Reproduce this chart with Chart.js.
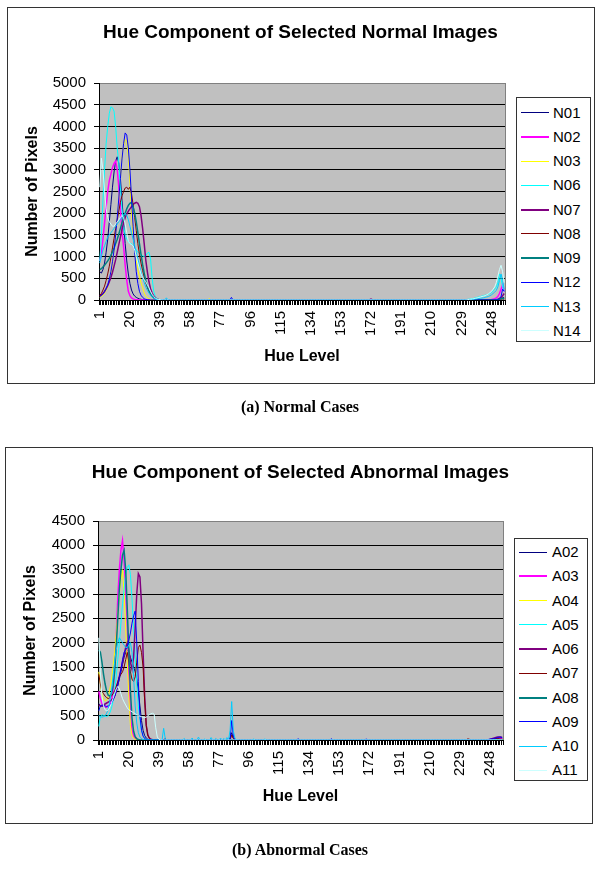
<!DOCTYPE html>
<html><head><meta charset="utf-8">
<script src="https://cdn.jsdelivr.net/npm/chart.js@4.4.1/dist/chart.umd.min.js"></script>
<style>
html,body{margin:0;padding:0;background:#fff;width:600px;height:874px;overflow:hidden;position:relative;font-family:Arial,'Liberation Sans',sans-serif;}
.frame{position:absolute;border:1px solid #333;box-sizing:border-box;pointer-events:none;}
canvas{position:absolute;left:0;}
.title{position:absolute;left:0;width:601px;text-align:center;font-weight:bold;font-size:19px;line-height:22px;color:#000;}
.caption{position:absolute;left:0;width:600px;text-align:center;font-family:'Liberation Serif','Times New Roman',serif;font-weight:bold;font-size:16px;line-height:20px;color:#000;}
.legend{position:absolute;border:1px solid #333;background:#fff;box-sizing:border-box;}
.li{position:absolute;left:0;width:100%;height:0;}
.li .ln{position:absolute;width:28px;}
.li .tx{position:absolute;font-size:15px;line-height:18px;top:-9px;color:#000;white-space:nowrap;}
</style></head><body>

<div class="frame" style="left:7px;top:7px;width:588px;height:377px;"></div>
<div class="frame" style="left:5px;top:447px;width:588px;height:377px;"></div>
<canvas id="c1" width="600" height="440" style="top:0px;"></canvas>
<canvas id="c2" width="600" height="434" style="top:440px;"></canvas>
<div class="title" style="top:21px;">Hue Component of Selected Normal Images</div>
<div class="title" style="top:461px;">Hue Component of Selected Abnormal Images</div>
<div class="legend" id="lg1" style="left:516px;top:97px;width:75px;height:245px;"></div>
<div class="legend" id="lg2" style="left:514px;top:538px;width:74px;height:243px;"></div>
<div class="caption" style="top:397px;">(a) Normal Cases</div>
<div class="caption" style="top:840px;">(b) Abnormal Cases</div>

<script>
// ---------------- DATA ----------------
const hueLevels = [
1,2,3,4,5,6,7,8,9,10,11,12,13,14,15,16,
17,18,19,20,21,22,23,24,25,26,27,28,29,30,31,32,
33,34,35,36,37,38,39,40,41,42,43,44,45,46,47,48,
49,50,51,52,53,54,55,56,57,58,59,60,61,62,63,64,
65,66,67,68,69,70,71,72,73,74,75,76,77,78,79,80,
81,82,83,84,85,86,87,88,89,90,91,92,93,94,95,96,
97,98,99,100,101,102,103,104,105,106,107,108,109,110,111,112,
113,114,115,116,117,118,119,120,121,122,123,124,125,126,127,128,
129,130,131,132,133,134,135,136,137,138,139,140,141,142,143,144,
145,146,147,148,149,150,151,152,153,154,155,156,157,158,159,160,
161,162,163,164,165,166,167,168,169,170,171,172,173,174,175,176,
177,178,179,180,181,182,183,184,185,186,187,188,189,190,191,192,
193,194,195,196,197,198,199,200,201,202,203,204,205,206,207,208,
209,210,211,212,213,214,215,216,217,218,219,220,221,222,223,224,
225,226,227,228,229,230,231,232,233,234,235,236,237,238,239,240,
241,242,243,244,245,246,247,248,249,250,251,252,253,254,255,256];

const xTickLabels = [1,20,39,58,77,96,115,134,153,172,191,210,229,248];
const normalYTicks = [0,500,1000,1500,2000,2500,3000,3500,4000,4500,5000];
const abnormalYTicks = [0,500,1000,1500,2000,2500,3000,3500,4000,4500];

const normalNames = ['N01','N02','N03','N06','N07','N08','N09','N12','N13','N14'];
const abnormalNames = ['A02','A03','A04','A05','A06','A07','A08','A09','A10','A11'];

const N01 = [
650,620,700,850,1100,1400,1800,2200,2600,2950,3200,3300,3150,2800,2300,1800,
1300,900,600,380,230,140,90,60,40,25,15,10,8,5,3,2,
1,0,0,0,0,0,0,0,0,0,0,0,0,0,0,0,
0,0,0,0,0,0,0,0,0,0,0,0,0,0,0,0,
0,0,0,0,0,0,0,0,0,0,0,0,0,0,0,0,
0,0,0,0,0,0,0,0,0,0,0,0,0,0,0,0,
0,0,0,0,0,0,0,0,0,0,0,0,0,0,0,0,
0,0,0,0,0,0,0,0,0,0,0,0,0,0,0,0,
0,0,0,0,0,0,0,0,0,0,0,0,0,0,0,0,
0,0,0,0,0,0,0,0,0,0,0,0,0,0,0,0,
0,0,0,0,0,0,0,0,0,0,0,0,0,0,0,0,
0,0,0,0,0,0,0,0,0,0,0,0,0,0,0,0,
0,0,0,0,0,0,0,0,0,0,0,0,0,0,0,0,
0,0,0,0,0,0,0,0,0,0,0,0,0,0,0,0,
0,0,0,0,0,0,0,0,0,0,0,0,0,0,0,0,
0,0,0,0,0,0,0,0,5,10,15,20,30,40,60,50];
const N02 = [
900,1080,1400,1770,2150,2500,2750,2900,3050,3150,3200,3000,2600,2100,1600,1230,
800,450,200,100,50,25,12,6,3,2,1,0,0,0,0,0,
0,0,0,0,0,0,0,0,0,0,0,0,0,0,0,0,
0,0,0,0,0,0,0,0,0,0,0,0,0,0,0,0,
0,0,0,0,0,0,0,0,0,0,0,0,0,0,0,0,
0,0,0,0,0,0,0,0,0,0,0,0,0,0,0,0,
0,0,0,0,0,0,0,0,0,0,0,0,0,0,0,0,
0,0,0,0,0,0,0,0,0,0,0,0,0,0,0,0,
0,0,0,0,0,0,0,0,0,0,0,0,0,0,0,0,
0,0,0,0,0,0,0,0,0,0,0,0,0,0,0,0,
0,0,0,0,0,0,0,0,0,0,0,0,0,0,0,0,
0,0,0,0,0,0,0,0,0,0,0,0,0,0,0,0,
0,0,0,0,0,0,0,0,0,0,0,0,0,0,0,0,
0,0,0,0,0,0,0,0,0,0,0,0,0,0,0,0,
0,0,0,0,0,0,0,0,0,0,0,0,0,0,0,0,
0,0,0,0,0,0,5,10,20,30,50,80,150,250,350,200];
const N03 = [
60,80,110,160,220,300,420,600,850,1150,1500,1840,2300,2800,3300,3550,
3700,3650,3300,2700,2000,1500,1150,900,700,540,400,280,160,90,50,25,
12,6,3,0,0,0,0,0,0,0,0,0,0,0,0,0,
0,0,0,0,0,0,0,0,0,0,0,0,0,0,0,0,
0,0,0,0,0,30,0,0,0,0,0,0,0,0,0,0,
0,0,0,0,0,0,0,0,0,0,0,0,0,0,0,0,
0,0,0,0,0,0,0,0,0,0,0,0,0,0,0,0,
0,0,0,0,0,0,0,0,0,0,0,0,0,0,0,0,
0,0,0,0,0,0,0,0,0,0,0,0,0,0,0,0,
0,0,0,0,0,0,0,0,0,0,0,0,0,0,0,0,
0,0,0,0,0,0,0,0,0,0,0,0,0,0,0,0,
0,0,0,0,0,0,0,0,0,0,0,0,0,0,0,0,
0,0,0,0,0,0,0,0,0,0,0,0,0,0,0,0,
0,0,0,0,0,0,0,0,0,0,0,0,0,0,0,0,
0,0,0,0,0,0,0,0,0,0,0,0,0,0,0,0,
0,0,0,0,0,0,0,0,0,5,10,15,20,30,40,30];
const N06 = [
900,1500,2300,3000,3600,4000,4300,4450,4430,4350,4000,3500,3150,2600,2100,1700,
1500,1400,1350,1300,1300,1250,1200,1150,1100,1080,1050,1020,1000,1020,1080,1100,
950,500,200,80,30,15,8,5,3,2,1,0,0,0,0,0,
0,0,0,0,0,0,0,0,0,0,0,0,0,0,0,0,
0,0,0,0,0,0,0,0,0,0,0,0,0,0,0,0,
0,0,0,0,0,0,0,0,0,0,0,0,0,0,0,0,
0,0,0,0,0,0,0,0,0,0,0,0,0,0,0,0,
0,0,0,0,0,0,0,0,0,0,0,0,0,0,0,0,
0,0,0,0,0,0,0,0,0,0,0,0,0,0,0,0,
0,0,0,0,0,0,0,0,0,0,0,0,0,0,0,0,
0,0,0,0,0,0,0,0,0,0,0,0,0,0,0,0,
0,0,0,0,0,0,0,0,0,0,0,0,0,0,0,0,
0,0,0,0,0,0,0,0,0,0,0,0,0,0,0,0,
0,0,0,0,0,0,0,0,0,0,0,0,0,0,0,0,
0,0,0,0,5,8,10,12,15,20,25,30,40,50,60,70,
80,90,100,110,120,130,150,170,200,250,300,400,600,500,300,200];
const N07 = [
100,120,150,200,260,330,420,520,640,780,930,1100,1280,1450,1620,1780,
1900,1980,2050,2100,2150,2200,2230,2250,2230,2150,1950,1650,1300,920,650,420,
260,160,90,50,25,12,6,3,0,0,0,0,0,0,0,0,
0,0,0,0,0,0,0,0,0,0,0,0,0,0,0,0,
0,0,0,0,0,0,0,0,0,0,0,0,0,0,0,0,
0,0,0,0,0,0,0,0,0,0,0,0,0,0,0,0,
0,0,0,0,0,0,0,0,0,0,0,0,0,0,0,0,
0,0,0,0,0,0,0,0,0,0,0,0,0,0,0,0,
0,0,0,0,0,0,0,0,0,0,0,0,0,0,0,0,
0,0,0,0,0,0,0,0,0,0,0,0,0,0,0,0,
0,0,0,0,0,0,0,0,0,0,0,20,0,0,0,0,
0,0,0,0,0,0,0,0,0,0,0,0,0,0,0,0,
0,0,0,0,0,0,0,0,0,0,0,0,0,0,0,0,
0,0,0,0,0,0,0,0,0,0,0,0,0,0,0,0,
0,0,0,0,0,0,0,0,0,0,0,0,0,0,0,0,
0,0,0,0,0,0,0,0,0,0,0,0,30,60,100,150];
const N08 = [
100,150,230,320,450,600,780,980,1200,1420,1650,1850,2050,2250,2400,2500,
2580,2600,2550,2600,2450,2200,1900,1600,1300,1050,850,680,530,400,290,200,
130,80,45,25,12,6,3,0,0,0,0,0,0,0,0,0,
0,0,0,0,0,0,0,0,0,0,0,0,0,0,0,0,
0,0,0,0,0,0,0,0,0,0,0,0,0,0,0,0,
0,0,0,0,0,0,0,0,0,0,0,0,0,0,0,0,
0,0,0,0,0,0,0,0,0,0,0,0,0,0,0,0,
0,0,0,0,0,0,0,0,0,0,0,0,0,0,0,0,
0,0,0,0,0,0,0,0,0,0,0,0,0,0,0,0,
0,0,0,0,0,0,0,0,0,0,0,0,0,0,0,0,
0,0,0,0,0,0,0,0,0,0,0,0,0,0,0,0,
0,0,0,0,0,0,0,0,0,0,0,0,0,0,0,0,
0,0,0,0,0,0,0,0,0,0,0,0,0,0,0,0,
0,0,0,0,0,0,0,0,0,0,0,0,0,0,0,0,
0,0,0,0,0,0,0,0,0,0,0,0,0,0,0,0,
0,0,0,0,0,0,0,0,0,0,5,10,15,20,25,20];
const N09 = [
700,720,760,800,850,900,960,1030,1110,1200,1300,1400,1520,1650,1780,1900,
2000,2100,2180,2230,2250,2150,2000,1800,1550,1300,1050,820,620,450,320,220,
140,90,55,30,15,8,4,2,0,0,0,0,0,0,0,0,
0,0,0,0,0,0,0,0,0,0,0,0,0,0,0,0,
0,0,0,0,0,0,0,0,0,0,0,0,0,0,0,0,
0,0,0,0,0,0,0,0,0,0,0,0,0,0,0,0,
0,0,0,0,0,0,0,0,0,0,0,0,0,0,0,0,
0,0,0,0,0,0,0,0,0,0,0,0,0,0,0,0,
0,0,0,0,0,0,0,0,0,0,0,0,0,0,0,0,
0,0,0,0,0,0,0,0,0,0,0,0,0,0,0,0,
0,0,0,0,0,0,0,0,0,0,0,0,0,0,0,0,
0,0,0,0,0,0,0,0,0,0,0,0,0,0,0,0,
0,0,0,0,0,0,0,0,0,0,0,0,0,0,0,0,
0,0,0,0,0,0,0,0,0,0,0,0,0,0,0,0,
0,0,0,0,0,0,0,0,0,0,0,0,0,0,0,0,
0,0,0,0,0,0,0,0,0,0,5,10,20,30,40,30];
const N12 = [
80,100,140,190,260,350,480,650,880,1150,1500,1900,2350,2800,3250,3600,
3850,3800,3500,3000,2350,1700,1100,650,380,200,110,60,30,15,8,4,
2,1,0,0,0,0,0,0,0,0,0,0,0,0,0,0,
0,0,0,0,0,0,0,0,0,0,0,0,0,0,0,0,
0,0,0,0,0,0,0,0,0,0,0,0,0,0,0,0,
0,0,0,60,0,0,0,0,0,0,0,0,0,0,0,0,
0,0,0,0,0,0,0,0,0,0,0,0,0,0,0,0,
0,0,0,0,0,0,0,0,0,0,0,0,0,0,0,0,
0,0,0,0,0,0,0,0,0,0,0,0,0,0,0,0,
0,0,0,0,0,0,0,0,0,0,0,0,0,0,0,0,
0,0,0,0,0,0,0,0,0,0,0,0,0,0,0,0,
0,0,0,0,0,0,0,0,0,0,0,0,0,0,0,0,
0,0,0,0,0,0,0,0,0,0,0,0,0,0,0,0,
0,0,0,0,0,0,0,0,0,0,0,0,0,0,0,0,
0,0,0,0,0,0,0,0,0,0,0,0,0,0,0,0,
0,0,0,0,0,0,0,0,0,0,0,10,30,80,250,200];
const N13 = [
850,1000,1150,1250,1350,1450,1500,1550,1600,1650,1700,1750,1800,1850,1900,1950,
2000,1950,1850,1700,1550,1400,1250,1100,950,800,650,520,400,300,220,160,
110,70,40,20,10,5,2,1,0,0,50,0,0,0,0,0,
0,0,0,0,0,0,0,0,0,0,0,0,0,0,0,0,
0,0,0,0,0,0,0,0,0,0,0,0,0,0,0,0,
0,0,0,0,0,0,0,0,0,0,0,0,0,0,0,0,
0,0,0,0,0,0,0,0,0,0,0,0,0,0,0,0,
0,0,0,0,0,0,0,0,0,0,0,0,0,0,0,0,
0,0,0,0,0,0,0,0,0,0,0,0,0,0,0,0,
0,0,0,0,0,0,0,0,0,0,0,0,0,0,0,0,
0,0,0,0,0,0,0,0,0,0,0,0,0,0,0,0,
0,0,0,0,0,0,0,0,0,0,0,0,0,0,0,0,
0,0,0,0,0,0,0,0,0,0,0,0,0,0,0,0,
0,0,0,0,0,0,0,0,0,0,0,0,0,0,0,0,
0,0,0,0,0,0,0,0,0,0,10,15,20,25,30,35,
40,45,50,60,70,80,100,120,150,180,220,300,450,600,450,250];
const N14 = [
2600,3270,3000,2500,2100,1900,1800,1750,1700,1700,1750,1800,1850,1900,1950,1900,
1750,1550,1350,1300,1280,1250,1150,1000,850,720,600,520,470,420,350,280,
200,130,80,45,25,12,6,3,0,0,0,0,0,0,0,0,
0,0,0,0,0,0,0,0,0,0,0,0,0,0,0,0,
0,0,0,0,0,0,0,0,0,0,0,0,0,0,0,0,
0,0,0,0,0,0,0,0,0,0,0,0,0,0,0,0,
0,0,0,0,0,0,0,0,0,0,0,0,0,0,0,0,
0,0,0,0,0,0,0,0,0,0,0,0,0,0,0,0,
0,0,0,0,0,0,0,0,0,0,0,0,0,0,0,0,
0,0,0,0,0,0,0,0,0,0,0,0,0,0,0,0,
0,0,0,0,0,0,0,0,0,0,0,0,0,0,0,0,
0,0,0,0,0,0,0,0,0,0,0,0,0,0,0,0,
0,0,0,0,0,0,0,0,0,0,0,0,0,0,0,0,
0,0,0,0,0,0,0,0,0,0,0,0,0,0,0,0,
0,0,0,0,0,0,0,0,10,15,20,25,30,40,50,60,
70,80,90,100,120,140,170,200,250,300,400,550,700,800,650,400];

const A02 = [
750,700,700,690,680,680,700,720,760,820,900,1000,1120,1250,1400,1550,
1700,1800,1850,1800,1700,1600,1500,1400,1250,1000,700,400,200,90,40,15,
5,0,0,0,0,0,0,0,0,0,30,0,0,0,0,0,
0,0,0,0,0,0,0,0,0,0,0,0,0,0,0,0,
0,0,0,0,0,0,0,0,0,0,0,0,0,0,0,0,
0,0,0,40,150,50,0,0,0,0,0,0,0,0,0,0,
0,0,0,0,0,0,0,0,0,0,0,0,0,0,0,0,
0,0,0,0,0,0,0,0,0,0,0,0,0,0,0,0,
0,0,0,0,0,0,0,0,0,0,0,0,0,0,0,0,
0,0,0,0,0,0,0,0,0,0,0,0,0,0,0,0,
0,0,0,0,0,0,0,0,0,0,0,0,0,0,0,0,
0,0,0,0,0,0,0,0,0,0,0,0,0,0,0,0,
0,0,0,0,0,0,0,0,0,0,0,0,0,0,0,0,
0,0,0,0,0,0,0,0,0,0,0,0,0,0,0,0,
0,0,0,0,0,0,0,0,0,0,0,0,0,0,0,0,
0,0,0,0,0,0,0,10,15,20,25,30,30,35,40,30];
const A03 = [
1000,850,750,700,690,680,690,720,800,1000,1500,2100,2900,3500,3900,4100,
3700,3100,2400,1300,500,200,80,30,10,5,0,0,0,0,0,0,
0,0,0,0,0,0,0,0,0,0,0,0,0,0,0,0,
0,0,0,0,0,0,0,0,0,0,0,0,0,0,0,0,
0,0,0,0,0,0,0,0,0,0,0,0,0,0,0,0,
0,0,0,0,0,0,0,0,0,0,0,0,0,0,0,0,
0,0,0,0,0,0,0,0,0,0,0,0,0,0,0,0,
0,0,0,0,0,0,0,0,0,0,0,0,0,0,0,0,
0,0,0,0,0,0,0,0,0,0,0,0,0,0,0,0,
0,0,0,0,0,0,0,0,0,0,0,0,0,0,0,0,
0,0,0,0,0,0,0,0,0,0,0,0,0,0,0,0,
0,0,0,0,0,0,0,0,0,0,0,0,0,0,0,0,
0,0,0,0,0,0,0,0,0,0,0,0,0,0,0,0,
0,0,0,0,0,0,0,0,0,0,0,0,0,0,0,0,
0,0,0,0,0,0,0,0,0,0,0,0,0,0,0,0,
0,0,0,0,0,0,0,0,0,0,0,0,10,20,30,20];
const A04 = [
1400,1150,950,850,800,820,900,1050,1250,1500,1800,2200,2600,3000,3300,3500,
3000,2300,1600,900,300,100,40,15,5,0,0,0,0,0,0,0,
0,0,0,0,0,0,0,0,0,0,0,0,0,0,0,0,
0,0,0,0,0,0,0,0,0,0,0,0,0,0,0,0,
0,0,0,0,0,0,0,0,0,0,0,0,0,0,0,0,
0,0,0,0,0,0,0,0,0,0,0,0,0,0,0,0,
0,0,0,0,0,0,0,0,0,0,0,0,0,0,0,0,
0,0,0,0,0,0,0,0,0,0,0,0,0,0,0,0,
0,0,0,0,0,0,0,0,0,0,0,0,0,0,0,0,
0,0,0,0,0,0,0,0,0,0,0,0,0,0,0,0,
0,0,0,0,0,0,0,0,0,0,0,0,0,0,0,0,
0,0,0,0,0,0,0,0,0,0,0,0,0,0,0,0,
0,0,0,0,0,0,0,0,0,0,0,0,0,0,0,0,
0,0,0,0,0,0,0,0,0,0,0,0,0,0,0,0,
0,0,0,0,0,0,0,0,0,0,0,0,0,0,0,0,
0,0,0,0,0,0,0,0,0,0,0,0,0,0,0,0];
const A05 = [
280,480,520,500,490,480,500,560,650,800,1000,1300,1650,2000,2400,2800,
3100,3400,3550,3600,3400,2900,2300,1700,1150,700,400,200,90,40,15,5,
0,0,0,0,0,0,0,0,0,0,0,0,0,0,0,0,
0,0,0,0,0,0,0,0,0,0,0,0,0,0,0,0,
0,0,0,0,0,0,0,0,0,0,0,0,0,0,0,0,
0,0,0,0,0,0,0,0,0,0,0,0,0,0,0,0,
0,0,0,0,0,0,0,0,0,0,0,0,0,0,0,0,
0,0,0,0,0,0,0,0,0,0,0,0,0,0,0,0,
0,0,0,0,0,0,0,0,0,0,0,0,0,0,0,0,
0,0,0,0,0,0,0,0,0,0,0,0,0,0,0,0,
0,0,0,0,0,0,0,0,0,0,0,0,0,0,0,0,
0,0,0,0,0,0,0,0,0,0,0,0,0,0,0,0,
0,0,0,0,0,0,0,0,0,0,0,0,0,0,0,0,
0,0,0,0,0,0,0,0,0,0,0,0,0,0,0,0,
0,0,0,0,0,0,0,0,0,0,0,0,0,0,0,0,
0,0,0,0,0,0,0,0,0,0,0,0,0,0,0,0];
const A06 = [
720,700,700,720,740,760,780,800,820,850,900,1000,1150,1300,1450,1600,
1750,1900,2000,1850,1600,1450,1700,2300,3000,3420,3350,2800,1800,900,300,100,
40,15,5,0,0,0,0,0,0,0,0,0,0,0,0,0,
0,0,0,0,0,0,0,0,0,0,0,0,0,0,0,0,
0,0,0,0,0,0,0,0,0,0,0,0,0,0,0,0,
0,0,0,0,0,0,0,0,0,0,0,0,0,0,0,0,
0,0,0,0,0,0,0,0,0,0,0,0,0,0,0,0,
0,0,0,0,0,0,0,0,0,0,0,0,0,0,0,0,
0,0,0,0,0,0,0,0,0,0,0,0,0,0,0,0,
0,0,0,0,0,0,0,0,0,0,0,0,0,0,0,0,
0,0,0,0,0,0,0,0,0,0,0,0,0,0,0,0,
0,0,0,0,0,0,0,0,0,0,0,0,0,0,0,0,
0,0,0,0,0,0,0,0,0,0,0,0,0,0,0,0,
0,0,0,0,0,0,0,0,0,0,0,0,0,0,0,0,
0,0,0,0,0,0,0,0,0,0,0,0,0,0,0,0,
0,0,0,0,0,0,0,10,20,30,40,50,60,60,60,50];
const A07 = [
1350,1150,1000,950,900,870,850,870,900,950,1000,1100,1200,1300,1350,1400,
1500,1650,1800,1600,1400,1250,1200,1300,1600,1900,1950,1800,1500,800,300,100,
30,10,0,0,0,0,0,0,0,0,0,0,0,0,0,0,
0,0,0,0,0,0,0,0,0,0,0,0,0,0,0,0,
0,0,0,0,0,0,0,0,0,0,0,0,0,0,0,0,
0,0,0,0,100,30,0,0,0,0,0,0,0,0,0,0,
0,0,0,0,0,0,0,0,0,0,0,0,0,0,0,0,
0,0,0,0,0,0,0,0,0,0,0,0,0,0,0,0,
0,0,0,0,0,0,0,0,0,0,0,0,0,0,0,0,
0,0,0,0,0,0,0,0,0,0,0,0,0,0,0,0,
0,0,0,0,0,0,0,0,0,0,0,0,0,0,0,0,
0,0,0,0,0,0,0,0,0,0,0,0,0,0,0,0,
0,0,0,0,0,0,0,0,0,0,0,0,0,0,0,0,
0,0,0,0,0,0,0,0,0,0,0,0,0,0,0,0,
0,0,0,0,0,0,0,0,0,20,20,0,0,0,0,0,
0,0,0,0,0,0,0,0,10,20,25,30,30,25,20,15];
const A08 = [
1850,1800,1600,1350,1150,1000,920,900,950,1100,1400,1900,2500,3100,3500,3800,
3900,3500,2700,1800,1000,450,180,70,25,10,0,0,0,0,0,0,
0,0,0,0,0,0,0,0,0,0,0,0,0,0,0,0,
0,0,0,0,0,0,0,0,0,0,0,0,0,0,0,0,
0,0,0,0,0,0,0,0,0,0,0,0,0,0,0,0,
0,0,0,0,0,0,0,0,0,0,0,0,0,0,0,0,
0,0,0,0,0,0,0,0,0,0,0,0,0,0,0,0,
0,0,0,0,0,0,0,0,0,0,0,0,0,0,0,0,
0,0,0,0,0,0,0,0,0,0,0,0,0,0,0,0,
0,0,0,0,0,0,0,0,0,0,0,0,0,0,0,0,
0,0,0,0,0,0,0,0,0,0,0,0,0,0,0,0,
0,0,0,0,0,0,0,0,0,0,0,0,0,0,0,0,
0,0,0,0,0,0,0,0,0,0,0,0,0,0,0,0,
0,0,0,0,0,0,0,0,0,0,0,0,0,0,0,0,
0,0,0,0,0,0,0,0,0,0,0,0,0,0,0,0,
0,0,0,0,0,0,0,0,0,0,0,0,0,0,0,0];
const A09 = [
600,700,720,710,700,690,700,720,760,820,900,1000,1150,1300,1450,1650,
1800,1850,1900,2050,2200,2400,2550,2650,2000,1200,500,200,80,30,10,0,
0,0,0,0,0,0,0,0,0,0,0,0,0,0,0,0,
0,0,0,0,0,0,0,0,0,0,0,0,0,0,0,0,
0,0,0,0,0,0,0,0,0,0,0,0,0,0,0,0,
0,0,0,0,400,100,0,0,0,0,0,0,0,0,0,0,
0,0,0,0,0,0,0,0,0,0,0,0,0,0,0,0,
0,0,0,0,0,0,0,0,0,0,0,0,0,0,25,0,
0,0,0,0,0,0,0,0,0,0,0,0,0,0,0,0,
0,0,0,25,0,0,0,0,0,0,0,0,0,0,0,0,
0,0,0,0,0,0,0,0,0,20,0,0,0,0,0,0,
0,0,0,0,0,0,0,0,0,0,0,0,0,0,0,0,
0,0,0,0,0,0,0,0,0,0,0,0,0,0,0,0,
0,0,0,0,0,0,0,0,0,0,0,0,0,0,0,0,
0,0,0,0,0,0,0,0,0,0,0,0,0,0,0,0,
0,0,0,0,0,0,10,15,20,25,30,40,50,60,60,50];
const A10 = [
500,480,470,480,500,550,650,800,1000,1300,1600,1850,2000,2100,2050,2000,
1950,1900,1900,1950,2000,1800,1300,700,350,150,60,25,10,0,0,0,
0,0,0,0,0,0,0,0,0,240,30,0,0,0,0,0,
0,0,0,0,0,0,30,0,0,0,0,40,0,0,0,60,
0,0,0,20,0,0,0,50,0,0,30,0,0,40,0,30,
0,50,0,200,790,200,40,0,0,0,0,0,0,0,0,0,
0,0,20,0,0,0,0,0,0,20,0,0,0,0,0,0,
0,0,0,0,0,0,0,0,0,0,0,0,0,0,0,0,
0,0,0,0,0,0,0,0,0,0,0,0,0,0,0,0,
0,0,0,0,0,0,0,0,0,0,0,0,0,0,0,0,
0,0,0,0,0,0,0,0,0,0,0,0,0,0,0,0,
0,0,0,0,0,0,0,0,0,0,0,0,0,0,0,0,
0,0,0,0,0,0,0,0,0,0,0,0,0,0,0,0,
0,0,0,0,0,0,0,0,0,0,0,0,0,0,0,0,
0,0,0,0,0,0,0,0,0,0,0,0,0,0,0,0,
0,0,0,0,0,0,0,0,0,0,0,0,0,0,0,0];
const A11 = [
2100,1400,900,700,620,600,620,680,760,850,950,1050,1100,1050,950,850,
780,720,660,620,600,580,560,540,520,500,490,480,470,460,470,500,
520,540,550,530,250,60,15,5,0,0,0,0,0,0,0,0,
0,0,0,0,0,0,0,0,0,0,0,0,0,0,0,0,
0,0,0,0,0,0,0,0,0,0,0,0,0,0,0,0,
0,0,0,0,0,0,0,0,0,0,0,0,0,0,0,0,
0,0,0,0,0,0,0,0,0,0,0,0,0,0,0,0,
0,0,0,0,0,0,0,0,0,0,0,0,0,0,0,0,
0,0,0,0,0,0,0,0,0,0,0,0,0,0,0,0,
0,0,0,0,0,0,0,0,0,0,0,0,0,0,0,0,
0,0,0,0,0,0,0,0,0,0,0,0,0,0,0,0,
0,0,0,0,0,0,0,0,0,0,0,0,0,0,0,0,
0,0,0,0,0,0,0,0,0,0,0,0,0,0,0,0,
0,0,0,0,0,0,0,0,0,0,0,0,0,0,0,0,
0,0,0,0,0,0,0,0,0,0,0,0,0,0,0,0,
0,0,0,0,0,0,0,0,0,0,0,0,0,0,0,0];

const normalSeries = [N01,N02,N03,N06,N07,N08,N09,N12,N13,N14];
const abnormalSeries = [A02,A03,A04,A05,A06,A07,A08,A09,A10,A11];

// ---------------- STYLE ----------------
const seriesColors = ['#000080','#FF00FF','#FFFF00','#00FFFF','#800080','#800000','#008080','#0000FF','#00CCFF','#CCFFFF'];
const seriesWidths = [1,1.5,1,1,1.5,1,1.5,1,1,1];
const FONT = "Arial, 'Liberation Sans', sans-serif";

const plotBg = {
  id: 'plotBg',
  beforeDraw(chart) {
    const {ctx, chartArea: a} = chart;
    ctx.save();
    ctx.fillStyle = '#C0C0C0';
    ctx.fillRect(a.left, a.top, a.right - a.left, a.bottom - a.top);
    ctx.restore();
  },
  beforeDatasetsDraw(chart) {
    const {ctx, chartArea: a} = chart;
    ctx.save();
    ctx.strokeStyle = '#808080';
    ctx.lineWidth = 1;
    ctx.beginPath();
    ctx.moveTo(Math.round(a.right) + 0.5, a.top);
    ctx.lineTo(Math.round(a.right) + 0.5, a.bottom);
    ctx.stroke();
    ctx.restore();
  }
};

function makeChart(id, names, series, yTicks, pad, yW) {
  const yMax = yTicks[yTicks.length - 1];
  const datasets = series.map((d, i) => ({
    label: names[i], data: d,
    borderColor: seriesColors[i], backgroundColor: seriesColors[i],
    borderWidth: seriesWidths[i], pointRadius: 0, pointHoverRadius: 0,
    tension: 0, fill: false, order: series.length - i
  }));
  return new Chart(document.getElementById(id), {
    type: 'line',
    data: { labels: hueLevels, datasets },
    plugins: [plotBg],
    options: {
      responsive: false, animation: false, devicePixelRatio: 1,
      layout: { padding: pad },
      plugins: { legend: { display: false }, tooltip: { enabled: false }, title: { display: false } },
      scales: {
        x: {
          type: 'category', offset: true,
          grid: { display: true, drawOnChartArea: false, drawTicks: true, tickLength: 5, tickColor: '#000', tickWidth: 1, offset: true, color: '#000' },
          border: { display: true, color: '#000', width: 1 },
          ticks: {
            autoSkip: false, maxRotation: 90, minRotation: 90, padding: 6, color: '#000',
            font: { family: FONT, size: 15 },
            callback: function (v) {
              const lab = this.getLabelForValue(v);
              return xTickLabels.includes(Number(lab)) ? String(lab) : '';
            }
          },
          title: { display: true, text: 'Hue Level', color: '#000', font: { family: FONT, size: 16, weight: 'bold' }, padding: { top: 0, bottom: 8.4 } },
          afterFit(s) { s.height = 75; }
        },
        y: {
          min: 0, max: yMax,
          grid: { color: (c) => (c.tick && c.tick.value === yMax) ? '#808080' : '#000', lineWidth: 1, tickLength: 5, tickColor: '#000', drawTicks: true },
          border: { display: true, color: '#000', width: 1 },
          afterBuildTicks(s) { s.ticks = yTicks.map(v => ({ value: v })); },
          ticks: { padding: 8, color: '#000', font: { family: FONT, size: 15 }, callback: (v) => String(v) },
          title: { display: true, text: 'Number of Pixels', color: '#000', font: { family: FONT, size: 16, weight: 'bold' }, padding: { top: 14.4, bottom: 0 } },
          afterFit(s) { s.width = yW; }
        }
      }
    }
  });
}

makeChart('c1', normalNames, normalSeries, normalYTicks, { top: 83, left: 9, right: 95, bottom: 65 }, 90);
makeChart('c2', abnormalNames, abnormalSeries, abnormalYTicks, { top: 81, left: 7, right: 97, bottom: 59 }, 91);

function makeLegend(id, names, firstY, pitch, lineLeft, textLeft) {
  const box = document.getElementById(id);
  names.forEach((n, i) => {
    const row = document.createElement('div');
    row.className = 'li';
    row.style.top = (firstY + pitch * i) + 'px';
    const ln = document.createElement('div');
    ln.className = 'ln';
    const w = Math.max(1, Math.round(seriesWidths[i] * 1.3));
    ln.style.height = w + 'px';
    ln.style.top = (-w / 2) + 'px';
    ln.style.left = lineLeft + 'px';
    ln.style.background = seriesColors[i];
    const tx = document.createElement('span');
    tx.className = 'tx';
    tx.style.left = textLeft + 'px';
    tx.textContent = n;
    row.appendChild(ln); row.appendChild(tx);
    box.appendChild(row);
  });
}
makeLegend('lg1', normalNames, 14.5, 24.25, 4, 36);
makeLegend('lg2', abnormalNames, 13, 24.25, 4, 37);

const bad = normalSeries.concat(abnormalSeries).map((s, i) => [i, s.length]).filter(p => p[1] !== 256);
if (bad.length) setTimeout(() => { throw new Error('Length mismatch: ' + JSON.stringify(bad)); }, 0);
</script>
</body></html>
